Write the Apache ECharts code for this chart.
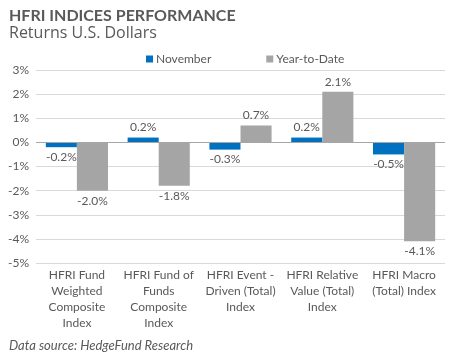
<!DOCTYPE html>
<html>
<head>
<meta charset="utf-8">
<script src="https://cdn.jsdelivr.net/npm/echarts@6/dist/echarts.min.js"></script>
<style>html,body{margin:0;padding:0;background:#fff;}#c{width:450px;height:355px;}</style>
</head>
<body>
<div id="c"></div>
<script>
var categories = ["HFRI Fund\nWeighted\nComposite\nIndex", "HFRI Fund of\nFunds\nComposite\nIndex", "HFRI Event -\nDriven (Total)\nIndex", "HFRI Relative\nValue (Total)\nIndex", "HFRI Macro\n(Total) Index"];
var november = [-0.2, 0.2, -0.3, 0.2, -0.5];
var ytd = [-2.0, -1.8, 0.7, 2.1, -4.1];
var seriesNames = ["November", "Year-to-Date"];
var yMin = -5, yMax = 3, yStep = 1;

var font = "Lato";
var txt = "#595959";
function items(arr) {
  return arr.map(function (v) {
    return { value: v, label: { position: v < 0 ? "bottom" : "top" } };
  });
}
var chart = echarts.init(document.getElementById("c"));
chart.setOption({
  animation: false,
  textStyle: { fontFamily: font },
  title: [
    { text: "HFRI INDICES PERFORMANCE", left: 4, top: 3, textStyle: { fontFamily: font, fontSize: 16, fontWeight: "bold", color: txt } },
    { text: "Returns U.S. Dollars", left: 4, top: 20, textStyle: { fontFamily: "Open Sans", fontSize: 16, fontWeight: "normal", color: txt } },
    { text: "Data source: HedgeFund Research", left: 4, top: 334, textStyle: { fontFamily: font, fontSize: 13, fontStyle: "italic", fontWeight: "normal", color: txt } }
  ],
  legend: {
    data: seriesNames, left: 141, top: 48, itemWidth: 7, itemHeight: 7, itemGap: 55, icon: "rect",
    textStyle: { fontFamily: font, fontSize: 12, color: txt, padding: [0, 0, 0, -2] }
  },
  grid: { left: 36, right: 5, top: 70, bottom: 92, containLabel: false },
  xAxis: {
    type: "category", data: categories,
    axisLine: { show: false }, axisTick: { show: false },
    axisLabel: { interval: 0, fontFamily: font, fontSize: 12, color: txt, lineHeight: 16, margin: 4 }
  },
  yAxis: {
    type: "value", min: yMin, max: yMax, interval: yStep,
    axisLine: { show: false }, axisTick: { show: false },
    axisLabel: { formatter: "{value}%", fontFamily: font, fontSize: 12, color: txt, margin: 7 },
    splitLine: { lineStyle: { color: "#D9D9D9", width: 1 } }
  },
  series: [
    {
      name: seriesNames[0], type: "bar", data: items(november), barGap: "0%", barCategoryGap: "24%",
      itemStyle: { color: "#0070C0" },
      label: { show: true, formatter: function (p) { return p.value.toFixed(1) + "%"; }, fontFamily: font, fontSize: 12, color: txt, distance: 4 },
      markLine: { silent: true, symbol: "none", label: { show: false }, lineStyle: { color: "#A6A6A6", width: 1, type: "solid" }, data: [{ yAxis: 0 }] }
    },
    {
      name: seriesNames[1], type: "bar", data: items(ytd), barGap: "0%", barCategoryGap: "24%",
      itemStyle: { color: "#A5A5A5" },
      label: { show: true, formatter: function (p) { return p.value.toFixed(1) + "%"; }, fontFamily: font, fontSize: 12, color: txt, distance: 4 }
    }
  ]
});
</script>
</body>
</html>
